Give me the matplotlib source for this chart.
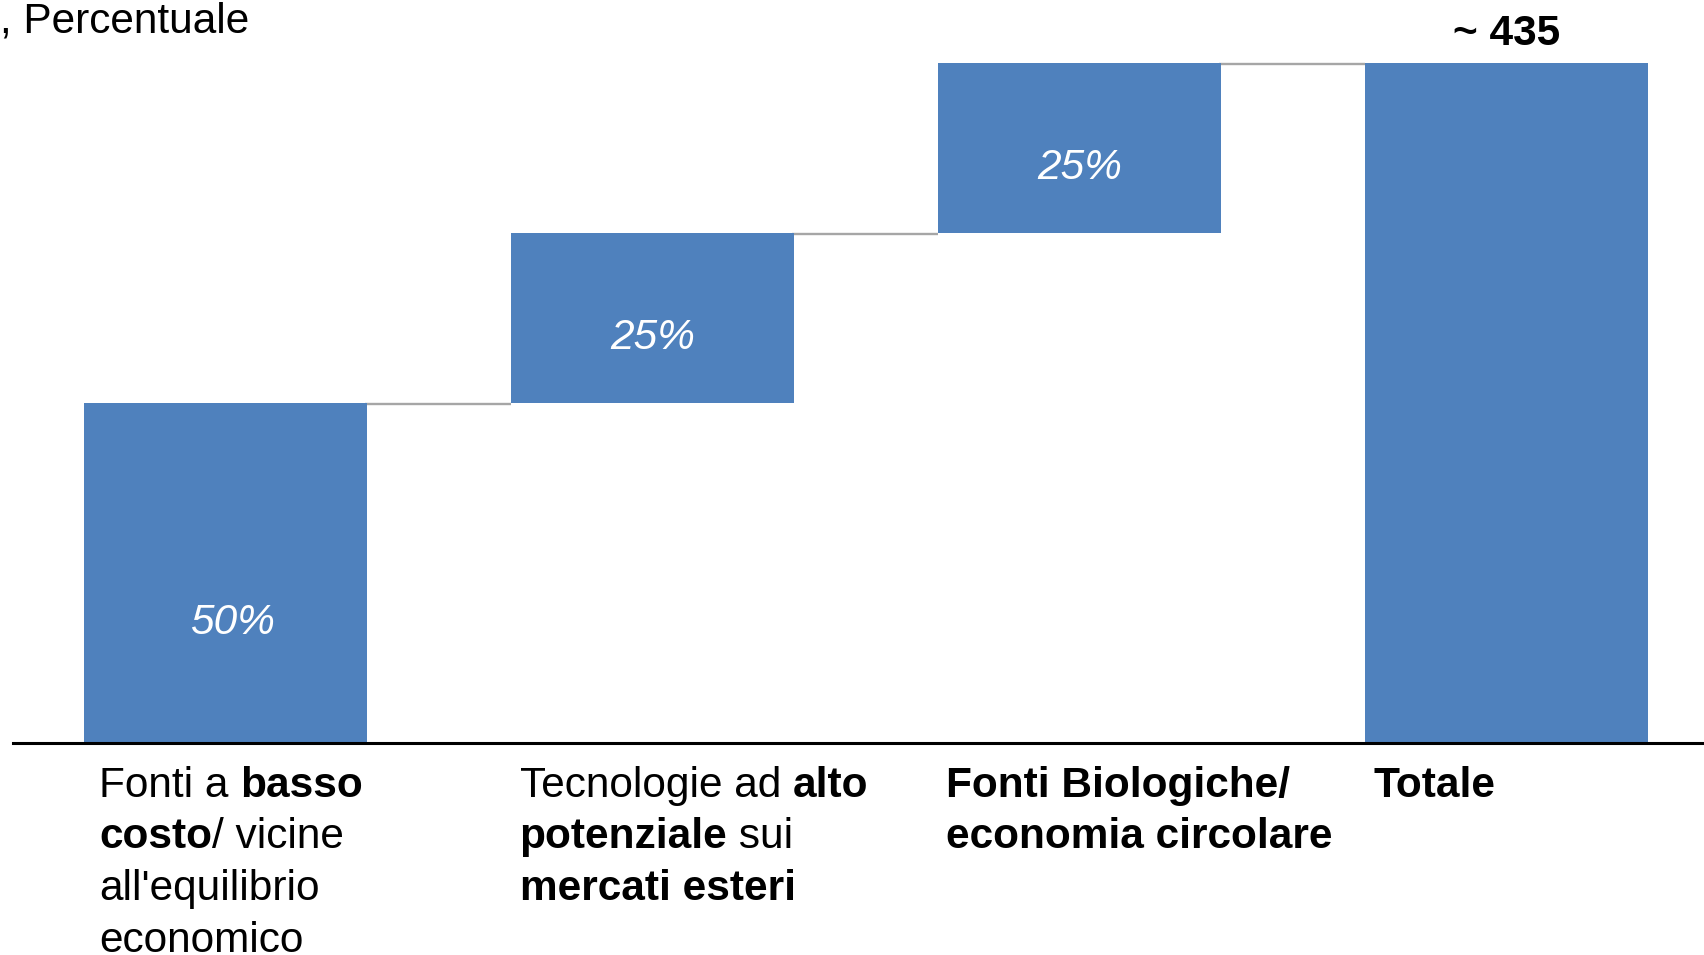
import matplotlib
matplotlib.use("Agg")
import matplotlib.pyplot as plt
from matplotlib.offsetbox import TextArea, HPacker, VPacker, AnnotationBbox

# Data
steps = [50, 25, 25]          # percent contribution of each source
step_labels = ["50%", "25%", "25%"]
total = sum(steps)
total_label = "~ 435"
unit_label = ", Percentuale"

# category labels: list of lines, each line a list of (text, bold?)
categories = [
    [[("Fonti a ", False), ("basso", True)],
     [("costo", True), ("/ vicine", False)],
     [("all'equilibrio", False)],
     [("economico", False)]],
    [[("Tecnologie ad ", False), ("alto", True)],
     [("potenziale", True), (" sui", False)],
     [("mercati esteri", True)]],
    [[("Fonti Biologiche/", True)],
     [("economia circolare", True)]],
    [[("Totale", True)]],
]

BLUE = "#4F81BD"
GREY = "#A6A6A6"
FONT = "Liberation Sans"
FS = 30.5
W = 0.663

fig = plt.figure(figsize=(17.04, 9.55), dpi=100)
ax = fig.add_axes([13 / 1704, 1 - 743 / 955, 1 - 13 / 1704, 743 / 955])

# waterfall bars
bottoms = []
acc = 0
for v in steps:
    bottoms.append(acc)
    acc += v
xs = list(range(len(steps) + 1))
heights = steps + [total]
bottoms = bottoms + [0]
ax.bar(xs, heights, bottom=bottoms, width=W, color=BLUE, edgecolor="none", zorder=2)

# connectors
levels = [b + h for b, h in zip(bottoms[:-1], heights[:-1])]
for i, lvl in enumerate(levels):
    ax.plot([i + W / 2 - 0.005, i + 1 - W / 2], [lvl - 0.15, lvl - 0.15],
            color=GREY, lw=1.7, zorder=1, solid_capstyle="butt")

# percent labels inside the step bars
for i, (b, h, t) in enumerate(zip(bottoms, heights, step_labels)):
    ax.text(i + (0.015 if i == 0 else 0), b + 0.32 * h, t, ha="center",
            va="baseline", color="white", fontsize=FS, fontstyle="italic",
            family=FONT, zorder=3)

# total label
ax.text(xs[-1], total + 2.6, total_label, ha="center", va="baseline",
        fontsize=FS, fontweight="bold", family=FONT)

# unit label top-left
fig.text(0.0, 1 - 33 / 955, unit_label, ha="left", va="baseline",
         fontsize=FS, family=FONT)

# category labels with mixed bold
offsets = [0.035, 0.02, 0.02, 0.02]
for i, lines in enumerate(categories):
    rows = []
    for line in lines:
        parts = [TextArea(t, textprops=dict(fontsize=FS, family=FONT,
                                              fontweight="bold" if b else "normal"))
                 for t, b in line]
        rows.append(HPacker(children=parts, align="baseline", pad=0, sep=0))
    box = VPacker(children=rows, align="left", pad=0, sep=8.3)
    ab = AnnotationBbox(box, (i - W / 2 + offsets[i], 0), xycoords="data",
                        xybox=(0, -16.5), boxcoords="offset points",
                        box_alignment=(0, 1), frameon=False, pad=0,
                        annotation_clip=False)
    ax.add_artist(ab)

ax.set_xlim(-0.498, 3.463)
ax.set_ylim(0, 100 + 63 / 6.8)
for s in ["top", "left", "right"]:
    ax.spines[s].set_visible(False)
ax.spines["bottom"].set_linewidth(2.2)
ax.spines["bottom"].set_color("black")
ax.set_xticks([])
ax.set_yticks([])

fig.savefig("out.png", dpi=100)
